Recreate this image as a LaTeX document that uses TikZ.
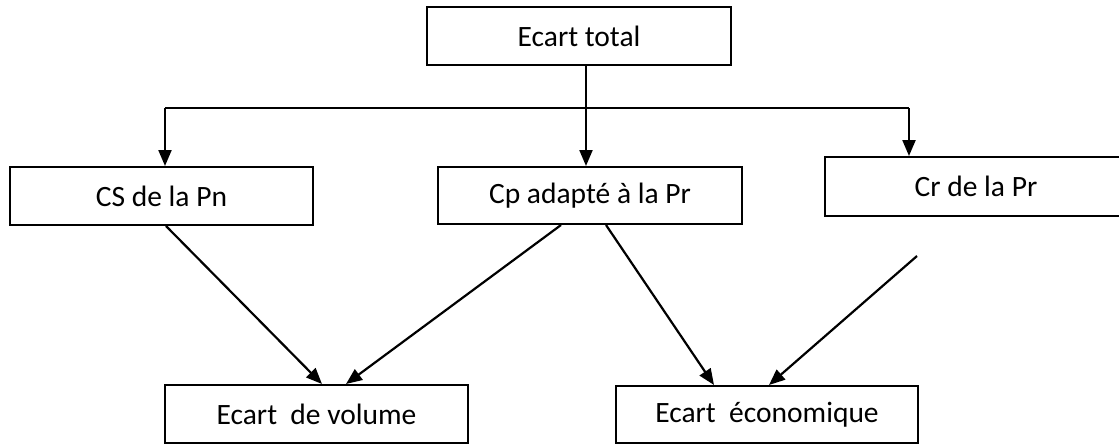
\documentclass[tikz,border=0pt]{standalone}
\usepackage{fontspec}
\setmainfont{Carlito}
\usetikzlibrary{arrows.meta}
\begin{document}
\begin{tikzpicture}[x=1pt,y=-1pt,
  box/.style={draw,line width=2pt,inner sep=0pt,font=\fontsize{29.5}{35}\selectfont},
  conn/.style={line width=2.2pt},
  arr/.style={conn,-{Triangle[length=16pt,width=13pt]}}]
\useasboundingbox (0,0) rectangle (1119,444);
\node[box,minimum width=304pt,minimum height=58pt] (tot) at (579,36) {Ecart total};
\node[box,minimum width=303pt,minimum height=58pt] (cs) at (161.5,196) {CS de la Pn};
\node[box,minimum width=304pt,minimum height=57pt] (cp) at (590,195.5) {Cp adapté à la Pr};
\node[box,minimum width=302pt,minimum height=59pt] (cr) at (976,186.5) {Cr de la Pr};
\node[box,minimum width=303pt,minimum height=58pt] (vol) at (316.5,414) {Ecart\ \ de volume};
\node[box,minimum width=302pt,minimum height=57pt] (eco) at (767,414.5) {Ecart\ \ économique};
\coordinate (j) at (586,108);
\coordinate (hl) at (165,108);
\coordinate (hr) at (909,108);
\draw[conn] (tot.south -| j) -- (j);
\draw[conn] (hl) -- (hr);
\draw[arr] (hl) -- (hl |- cs.north);
\draw[arr] (j) -- (j |- cp.north);
\draw[arr] (hr) -- (hr |- cr.north);
\draw[arr] ([xshift=157pt]cs.south west) -- ([xshift=158pt]vol.north west);
\draw[arr] ([xshift=124pt]cp.south west) -- ([xshift=182pt]vol.north west);
\draw[arr] ([xshift=169pt]cp.south west) -- ([xshift=99pt]eco.north west);
\draw[arr] ([xshift=93pt,yshift=-39pt]cr.south west) -- ([xshift=154pt]eco.north west);
\end{tikzpicture}
\end{document}
